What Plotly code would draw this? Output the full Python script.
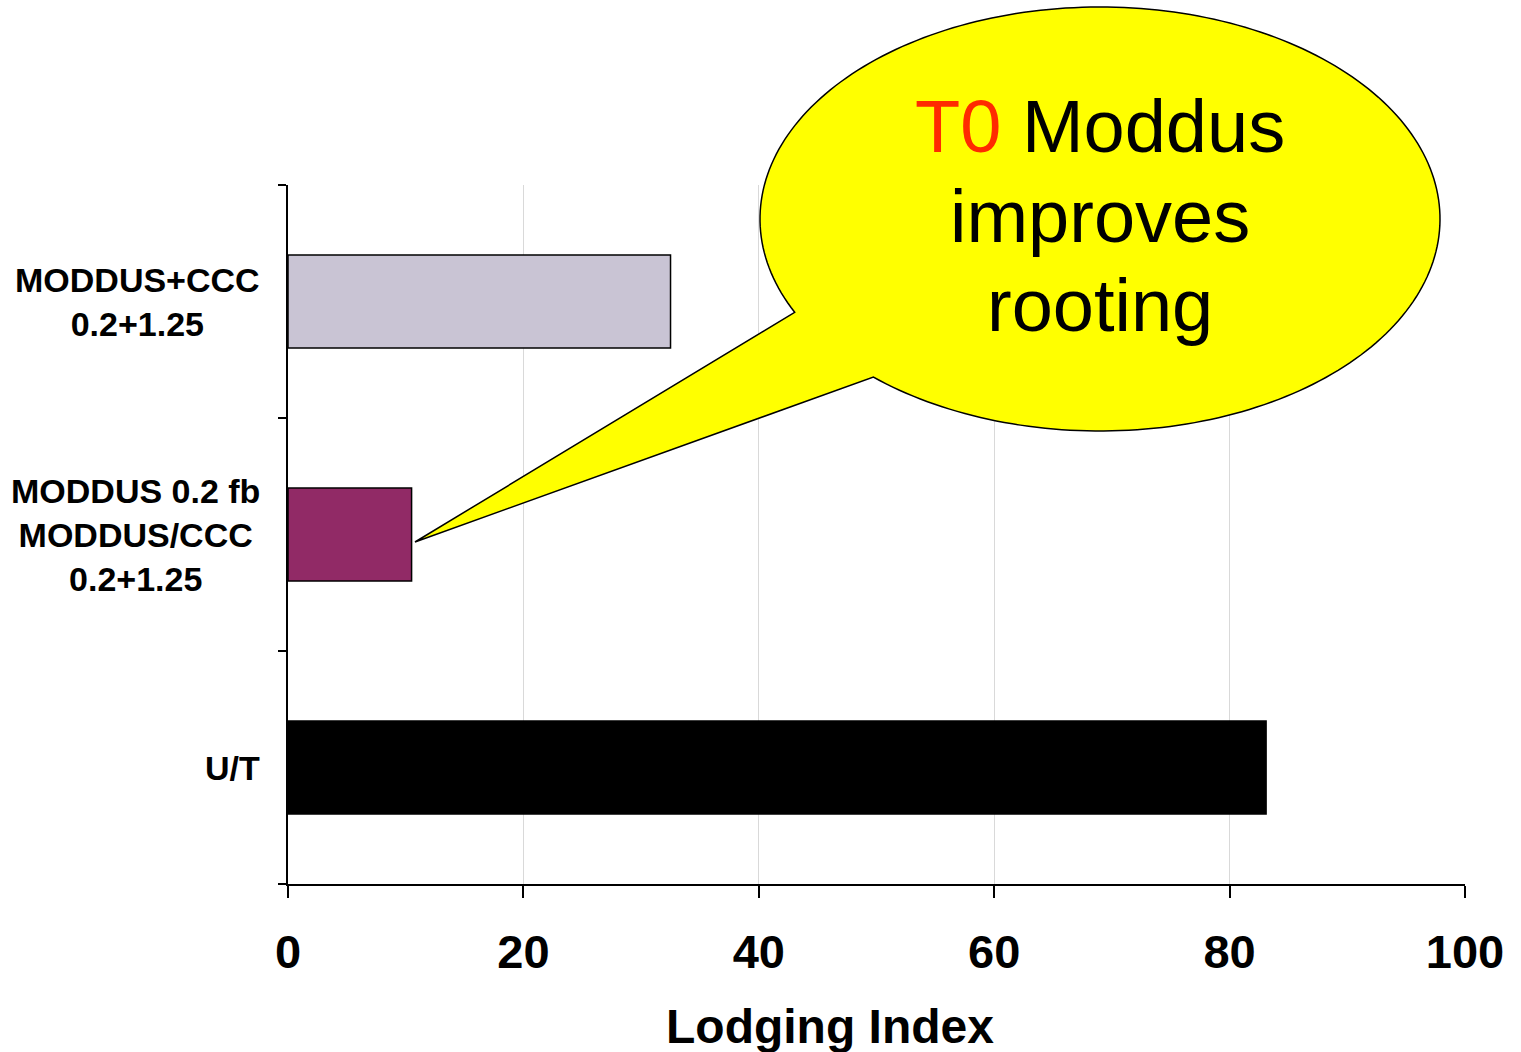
import numpy as np
import plotly.graph_objects as go

# ---- data ----
categories = ["U/T", "MODDUS 0.2 fb<br>MODDUS/CCC<br>0.2+1.25", "MODDUS+CCC<br>0.2+1.25"]
values = [83.1, 10.5, 32.5]
bar_colors = ["#000000", "#912A66", "#C9C4D4"]
x_ticks = [0, 20, 40, 60, 80, 100]
x_title = "Lodging Index"

W, H = 1521, 1052
L, R, T, B = 288, 1465, 185, 884

def px(x):
    return (x - L) / (R - L)

def py(y):
    return (B - y) / (B - T)

fig = go.Figure()
fig.add_trace(go.Bar(
    y=list(range(len(categories))), x=values, orientation="h", width=0.4,
    marker=dict(color=bar_colors, line=dict(color="black", width=1.5)),
    showlegend=False, hoverinfo="skip",
))

FONT = "Liberation Sans, Arial, sans-serif"

# category labels (centred block, right aligned to the axis)
annotations = []
for i, c in enumerate(categories):
    annotations.append(dict(
        x=0, xref="paper", y=i, yref="y", xanchor="right", yanchor="middle",
        xshift=-26, text="<b>" + c + "</b>", showarrow=False, align="center",
        font=dict(family=FONT, size=34, color="black"),
    ))

# x axis title
annotations.append(dict(
    x=px(830), y=py(1026), xref="paper", yref="paper", xanchor="center", yanchor="middle",
    text="<b>" + x_title + "</b>", showarrow=False,
    font=dict(family=FONT, size=48, color="black"),
))

# callout bubble
cx, cy, rx, ry = 1100, 219, 340, 212
a0 = np.deg2rad(153.9)
a1 = np.deg2rad(131.8 + 360)
ang = np.linspace(a0, a1, 240)
pts = [(cx + rx * np.cos(t), cy + ry * np.sin(t)) for t in ang]
pts.append((415, 542))
path = "M " + " L ".join(f"{px(x):.5f},{py(y):.5f}" for x, y in pts) + " Z"
shapes = [dict(type="path", xref="paper", yref="paper", path=path,
               fillcolor="#FFFF00", line=dict(color="black", width=1.5), layer="above")]

bubble_lines = ["<span style='color:#FF2A00'>T0</span> Moddus", "improves", "rooting"]
bubble_y = [127, 216, 305]
for t, yy in zip(bubble_lines, bubble_y):
    annotations.append(dict(
        x=px(1100), y=py(yy), xref="paper", yref="paper", xanchor="center", yanchor="middle",
        text=t, showarrow=False, font=dict(family=FONT, size=74, color="black"),
    ))

fig.update_layout(
    width=W, height=H,
    margin=dict(l=L, r=W - R, t=T, b=H - B, pad=0),
    plot_bgcolor="white", paper_bgcolor="white",
    xaxis=dict(
        range=[0, 100], tickvals=x_ticks, ticktext=[f"<b>{v}</b>" for v in x_ticks],
        showgrid=True, gridcolor="#D9D9D9", gridwidth=1,
        showline=True, linecolor="black", linewidth=2,
        ticks="outside", ticklen=12, tickwidth=2, tickcolor="black",
        tickfont=dict(family=FONT, size=47, color="black"),
        ticklabelstandoff=14,
        zeroline=False,
    ),
    yaxis=dict(
        type="linear", range=[-0.5, 2.5], tickmode="array",
        tickvals=[-0.5, 0.5, 1.5, 2.5], showticklabels=False,
        showgrid=False, showline=True, linecolor="black", linewidth=2,
        ticks="outside", ticklen=8, tickwidth=2, tickcolor="black",
        zeroline=False,
    ),
    shapes=shapes,
    annotations=annotations,
)

fig.write_html("out.html")
